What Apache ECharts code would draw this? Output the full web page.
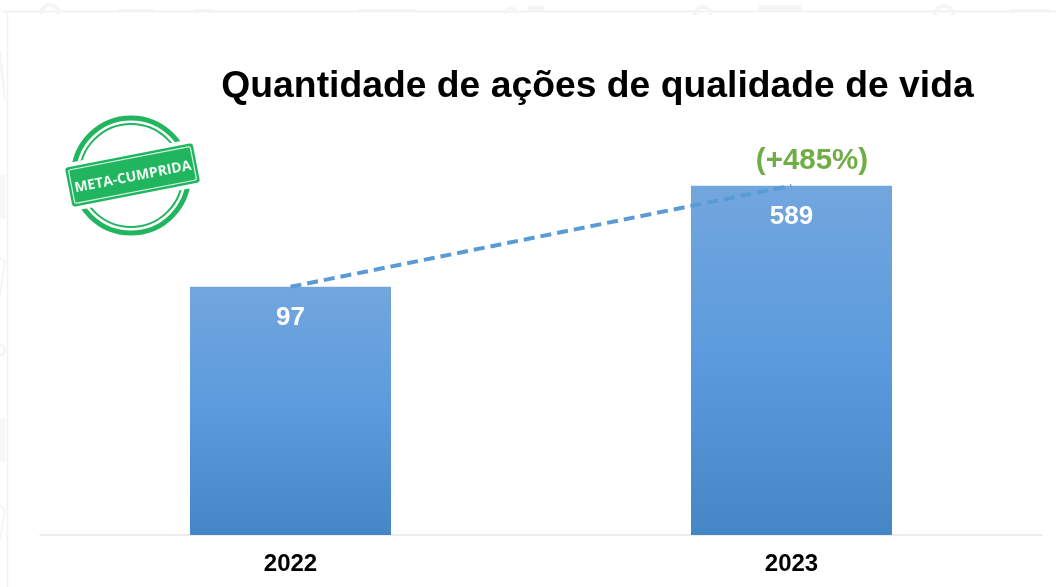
<!DOCTYPE html>
<html><head><meta charset="utf-8">
<style>html,body{margin:0;padding:0;background:#fff}#c{width:1056px;height:587px}</style>
<script src="https://cdn.jsdelivr.net/npm/echarts@6/dist/echarts.min.js"></script>
</head><body><div id="c"></div>
<script>
const categories = ['2022', '2023'];
const acoes = [97, 589];
const titleText = 'Quantidade de ações de qualidade de vida';
const growthLabel = '(+485%)';
const stampText = 'META-CUMPRIDA';
const FF = '"Liberation Sans", Arial, sans-serif';
const GREEN = '#22b560', WM = '#f5f5f5';

const chart = echarts.init(document.getElementById('c'), null, {renderer: 'canvas'});
chart.setOption({
  animation: false,
  backgroundColor: '#fff',
  title: {text: titleText, left: 592.5, top: 63, textAlign: 'center',
    textStyle: {fontFamily: FF, fontSize: 37.3, fontWeight: 'bold', color: '#000'}},
  grid: {left: 40, right: 14, top: 156, bottom: 52},
  xAxis: {type: 'category', data: categories,
    axisLine: {lineStyle: {color: '#e8e8e8', width: 1.5}}, axisTick: {show: false},
    axisLabel: {margin: 17, fontFamily: FF, fontSize: 24, fontWeight: 'bold', color: '#000'}},
  yAxis: {type: 'log', logBase: 10, min: 1.16, max: 1000, show: false, splitLine: {show: false}},
  series: [
    {type: 'bar', data: acoes, barWidth: 201,
      itemStyle: {color: new echarts.graphic.LinearGradient(0, 0, 0, 1, [
        {offset: 0, color: '#72a6de'}, {offset: 0.5, color: '#5b9bdd'}, {offset: 1, color: '#4586c6'}])},
      label: {show: true, position: 'insideTop', distance: 18, fontFamily: FF, fontSize: 26,
        fontWeight: 'bold', color: '#fff'}},
    {type: 'line', data: acoes, symbol: 'none', z: 5,
      lineStyle: {color: '#5b9bd5', width: 4, type: [11, 6]}}
  ],
  graphic: {elements: [
    {type: 'line', silent: true, shape: {x1: 3, y1: 11.5, x2: 1056, y2: 11.5}, style: {stroke: '#f0f0f0', lineWidth: 1.5}},
    {type: 'line', silent: true, shape: {x1: 7.5, y1: 11, x2: 7.5, y2: 587}, style: {stroke: '#f2f2f2', lineWidth: 1.5}},
    {type: 'arc', silent: true, shape: {cx: 50, cy: 14, r: 9, startAngle: Math.PI, endAngle: 2 * Math.PI}, style: {stroke: WM, lineWidth: 4, fill: null}},
    {type: 'rect', silent: true, shape: {x: 118, y: 9, width: 36, height: 2}, style: {fill: WM}},
    {type: 'rect', silent: true, shape: {x: 194, y: 9, width: 18, height: 2}, style: {fill: WM}},
    {type: 'rect', silent: true, shape: {x: 358, y: 9, width: 58, height: 2}, style: {fill: WM}},
    {type: 'arc', silent: true, shape: {cx: 511, cy: 14, r: 6, startAngle: Math.PI, endAngle: 2 * Math.PI}, style: {stroke: WM, lineWidth: 3, fill: null}},
    {type: 'rect', silent: true, shape: {x: 528, y: 6, width: 16, height: 5}, style: {fill: WM}},
    {type: 'arc', silent: true, shape: {cx: 703, cy: 15, r: 8, startAngle: Math.PI, endAngle: 2 * Math.PI}, style: {stroke: WM, lineWidth: 4, fill: null}},
    {type: 'rect', silent: true, shape: {x: 758, y: 5, width: 44, height: 6}, style: {fill: WM}},
    {type: 'arc', silent: true, shape: {cx: 944, cy: 15, r: 9, startAngle: Math.PI, endAngle: 2 * Math.PI}, style: {stroke: WM, lineWidth: 4, fill: null}},
    {type: 'rect', silent: true, shape: {x: 1010, y: 9, width: 40, height: 2}, style: {fill: WM}},
    {type: 'arc', silent: true, shape: {cx: 0, cy: 350, r: 5, startAngle: -1.5, endAngle: 1.5}, style: {stroke: WM, lineWidth: 3, fill: null}},
    {type: 'rect', silent: true, shape: {x: 0, y: 418, width: 6, height: 44}, style: {fill: '#f8f8f8'}},
    {type: 'rect', silent: true, shape: {x: 0, y: 175, width: 6, height: 44}, style: {fill: '#f8f8f8'}},
    {type: 'polyline', silent: true, shape: {points: [[0, 295], [5, 262], [0, 258]]}, style: {stroke: WM, lineWidth: 2, fill: null}},
    {type: 'polyline', silent: true, shape: {points: [[0, 540], [5, 510], [0, 505]]}, style: {stroke: WM, lineWidth: 2, fill: null}},
    {type: 'polyline', silent: true, shape: {points: [[0, 60], [5, 100], [0, 50]]}, style: {stroke: WM, lineWidth: 2, fill: null}},
    {type: 'text', z: 10, silent: true, style: {text: growthLabel, x: 812, y: 161, align: 'center', verticalAlign: 'middle',
      font: 'bold 29.5px ' + FF, fill: '#70ad47'}},
    {type: 'circle', z: 10, silent: true, shape: {cx: 131, cy: 175.5, r: 57.5}, style: {stroke: GREEN, lineWidth: 5, fill: null}},
    {type: 'circle', z: 10, silent: true, shape: {cx: 131, cy: 175.5, r: 51.5}, style: {stroke: GREEN, lineWidth: 2, fill: null}},
    {type: 'group', z: 11, silent: true, x: 132.5, y: 175, rotation: 11 * Math.PI / 180, children: [
      {type: 'rect', z: 11, shape: {x: -69, y: -24, width: 138, height: 48, r: 3}, style: {fill: '#fff'}},
      {type: 'rect', z: 12, shape: {x: -65, y: -20, width: 130, height: 40, r: 3}, style: {fill: GREEN}},
      {type: 'rect', z: 13, shape: {x: -62, y: -17, width: 124, height: 34, r: 2}, style: {fill: null, stroke: '#d8f3e2', lineWidth: 1.2}},
      {type: 'text', z: 14, style: {text: stampText, x: 0, y: 2, align: 'center', verticalAlign: 'middle',
        font: 'bold 14px "Open Sans", ' + FF, fill: '#eefaf2'}}
    ]}
  ]}
});
</script></body></html>
